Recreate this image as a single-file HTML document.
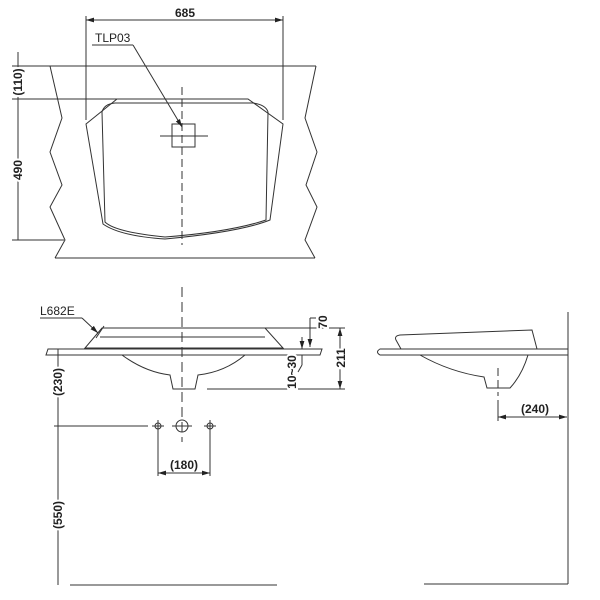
<!DOCTYPE html>
<html><head><meta charset="utf-8"><style>
html,body{margin:0;padding:0;background:#fff;}
svg{display:block}
text{font-family:"Liberation Sans",Arial,sans-serif;font-size:12px;font-weight:bold;fill:#222}
text.r{stroke:#fff;stroke-width:4px;paint-order:stroke}
</style></head><body>
<svg width="600" height="600" viewBox="0 0 600 600" xmlns="http://www.w3.org/2000/svg">
<defs>
<marker id="a" viewBox="0 0 10 6" refX="10" refY="3" markerWidth="8" markerHeight="5" orient="auto-start-reverse"><path d="M0,0L10,3L0,6z" fill="#222"/></marker>
</defs>
<g fill="none" stroke="#333" stroke-width="1">
<line x1="50" y1="66" x2="316" y2="66"/>
<line x1="55" y1="258" x2="315" y2="258"/>
<polyline points="50,66 62,118 50,152 62,185 50,207 65,240 55,258"/>
<polyline points="316,66 305,118 317,152 306,185 317,207 305,240 315,258"/>
<line x1="86" y1="20" x2="283" y2="20" marker-start="url(#a)" marker-end="url(#a)"/>
<line x1="86" y1="16" x2="86" y2="120"/>
<line x1="283" y1="16" x2="283" y2="120"/>
<path d="M86,124 L117,99 L248,99 L283,124 L270,220 Q240,232 165,239 Q120,236 103,224 Z"/>
<path d="M102,112 Q104,104 115,103 L253,103 Q266,105 268,112 L266,220 Q230,232 165,237 Q115,232 105,222 Z"/>
<line x1="18" y1="52" x2="18" y2="240"/>
<line x1="18" y1="66" x2="50" y2="66"/>
<line x1="18" y1="99" x2="180" y2="99"/>
<line x1="18" y1="240" x2="64" y2="240"/>
<rect x="172" y="124" width="23" height="23"/>
<line x1="160" y1="136" x2="208" y2="136"/>
<line x1="182" y1="87" x2="182" y2="245" stroke-dasharray="8,4"/>
<line x1="92" y1="45" x2="133" y2="45"/>
<line x1="133" y1="45" x2="182" y2="127" marker-end="url(#a)"/>
<line x1="182" y1="287" x2="182" y2="442" stroke-dasharray="10,5"/>
<path d="M102,328 L265,328 L283,348 L85,348 Z"/>
<line x1="100" y1="337" x2="265" y2="337"/>
<path d="M48,349 L322,349 L320,355 L46,355 Z"/>
<path d="M122,355 Q145,372 170,375 L173,389 L195,389 L198,375 Q225,372 245,355"/>
<line x1="104" y1="326" x2="96" y2="338"/>
<line x1="40" y1="318" x2="82" y2="318"/>
<line x1="82" y1="318" x2="98" y2="333" marker-end="url(#a)"/>
<line x1="265" y1="328" x2="345" y2="328"/>
<line x1="207" y1="389" x2="345" y2="389"/>
<line x1="340" y1="328" x2="340" y2="389" marker-start="url(#a)" marker-end="url(#a)"/>
<line x1="310" y1="318" x2="310" y2="347" marker-end="url(#a)"/>
<line x1="310" y1="318" x2="316" y2="318"/>
<line x1="302" y1="337" x2="302" y2="349" marker-end="url(#a)"/>
<line x1="302" y1="355" x2="302" y2="365"/>
<line x1="302" y1="365" x2="298" y2="372"/>
<line x1="58" y1="349" x2="58" y2="585"/>
<line x1="58" y1="426" x2="148" y2="426"/>
<line x1="54" y1="426" x2="62" y2="426"/>
<line x1="70" y1="585" x2="277" y2="585"/>
<circle cx="158" cy="426" r="3"/><circle cx="210" cy="426" r="3"/><circle cx="182" cy="426" r="6"/>
<line x1="152" y1="426" x2="164" y2="426"/><line x1="158" y1="420" x2="158" y2="432"/>
<line x1="204" y1="426" x2="216" y2="426"/><line x1="210" y1="420" x2="210" y2="432"/>
<line x1="172" y1="426" x2="192" y2="426"/>
<line x1="158" y1="432" x2="158" y2="476"/>
<line x1="210" y1="432" x2="210" y2="476"/>
<line x1="158" y1="473" x2="210" y2="473" marker-start="url(#a)" marker-end="url(#a)"/>
<line x1="568" y1="312" x2="568" y2="584"/>
<line x1="424" y1="584" x2="568" y2="584"/>
<path d="M568,349 L380,349 Q375,352 380,355 L568,355"/>
<path d="M396,340 Q394,336 400,335 L532,330 L537,349 L401,349 Z"/>
<path d="M420,355 Q450,372 484,377 L487,388 L510,388 Q522,375 528,355"/>
<line x1="498" y1="368" x2="498" y2="396" stroke-dasharray="8,4"/>
<line x1="498" y1="400" x2="498" y2="421"/>
<line x1="498" y1="417" x2="567" y2="417" marker-start="url(#a)" marker-end="url(#a)"/>
</g>
<g stroke="#333" stroke-width="1">
<line x1="12" y1="66" x2="24" y2="66"/><line x1="12" y1="99" x2="24" y2="99"/><line x1="12" y1="240" x2="24" y2="240"/>
</g>
<text x="185" y="17" text-anchor="middle">685</text>
<text x="95" y="42" style="font-weight:normal;font-size:12px">TLP03</text>
<text x="40" y="315" style="font-weight:normal;font-size:12px">L682E</text>
<text class="r" transform="translate(22,82) rotate(-90)" text-anchor="middle">(110)</text>
<text class="r" transform="translate(22,170) rotate(-90)" text-anchor="middle">490</text>
<text class="r" transform="translate(62,382) rotate(-90)" text-anchor="middle">(230)</text>
<text class="r" transform="translate(62,515) rotate(-90)" text-anchor="middle">(550)</text>
<text class="r" transform="translate(327,322) rotate(-90)" text-anchor="middle">70</text>
<text class="r" transform="translate(345,358) rotate(-90)" text-anchor="middle">211</text>
<text class="r" transform="translate(296,372) rotate(-90)" text-anchor="middle">10~30</text>
<text x="184" y="469" text-anchor="middle">(180)</text>
<text x="535" y="413" text-anchor="middle">(240)</text>
</svg>
</body></html>
